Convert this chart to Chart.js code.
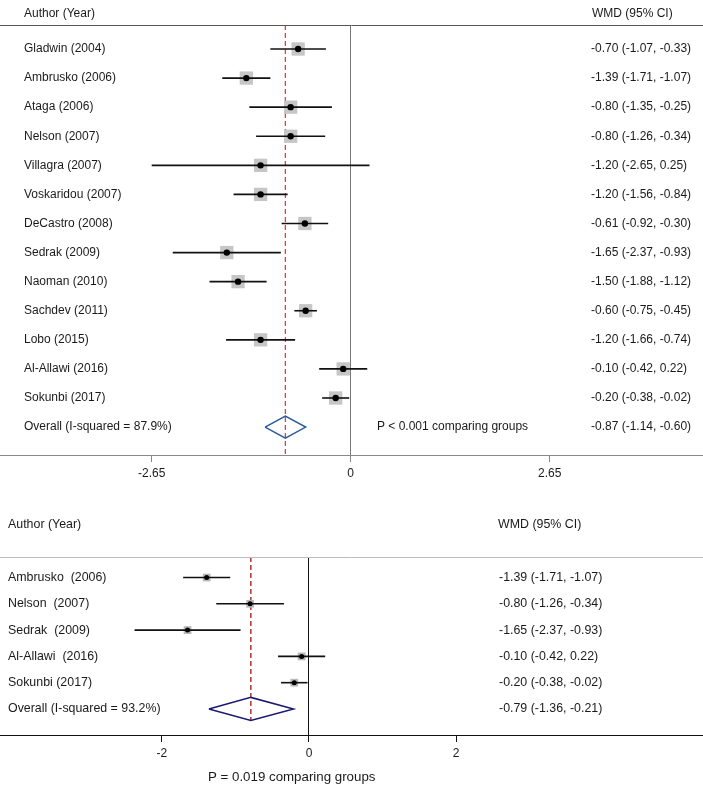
<!DOCTYPE html>
<html>
<head>
<meta charset="utf-8">
<script src="https://cdn.jsdelivr.net/npm/chart.js@4.4.1/dist/chart.umd.min.js"></script>
<style>
  html, body { margin: 0; padding: 0; background: #fff; }
  canvas { display: block; }
</style>
</head>
<body>
<canvas id="top-chart" width="703" height="490"></canvas>
<canvas id="bottom-chart" width="703" height="295"></canvas>
<script>
// bovenste paneel: alle studies
const topStudies = [
  "Gladwin (2004)", "Ambrusko (2006)", "Ataga (2006)", "Nelson (2007)",
  "Villagra (2007)", "Voskaridou (2007)", "DeCastro (2008)", "Sedrak (2009)",
  "Naoman (2010)", "Sachdev (2011)", "Lobo (2015)", "Al-Allawi (2016)", "Sokunbi (2017)"
];
const topEst  = [-0.70, -1.39, -0.80, -0.80, -1.20, -1.20, -0.61, -1.65, -1.50, -0.60, -1.20, -0.10, -0.20];
const topLow  = [-1.07, -1.71, -1.35, -1.26, -2.65, -1.56, -0.92, -2.37, -1.88, -0.75, -1.66, -0.42, -0.38];
const topHigh = [-0.33, -1.07, -0.25, -0.34,  0.25, -0.84, -0.30, -0.93, -1.12, -0.45, -0.74,  0.22, -0.02];
const topOverall = [-0.87, -1.14, -0.60]; // est, low, high
const topOverallLabel = "Overall (I-squared = 87.9%)";
const topPText = "P < 0.001 comparing groups";
const topTicks = [-2.65, 0, 2.65];
const topTickLabels = ["-2.65", "0", "2.65"];

// onderste paneel: subgroep
const botStudies = ["Ambrusko  (2006)", "Nelson  (2007)", "Sedrak  (2009)", "Al-Allawi  (2016)", "Sokunbi (2017)"];
const botEst  = [-1.39, -0.80, -1.65, -0.10, -0.20];
const botLow  = [-1.71, -1.26, -2.37, -0.42, -0.38];
const botHigh = [-1.07, -0.34, -0.93,  0.22, -0.02];
const botOverall = [-0.79, -1.36, -0.21];
const botOverallLabel = "Overall (I-squared = 93.2%)";
const botPText = "P = 0.019 comparing groups";
const botTicks = [-2, 0, 2];
const botTickLabels = ["-2", "0", "2"];

const FONT = "'Liberation Sans', Arial, Helvetica, sans-serif";

function fmt(v) {
  return v.toFixed(2);
}

function ciText(e, l, h) {
  return `${fmt(e)} (${fmt(l)}, ${fmt(h)})`;
}

function forestChart(canvasId, d, s) {
  const n = d.studies.length;
  const [oe, ol, oh] = d.overall;
  const datasets = [];

  // grijze gewichtsvierkanten
  datasets.push({
    type: "scatter",
    data: d.est.map((x, i) => ({ x, y: i })),
    pointStyle: "rect",
    pointRadius: s.boxR,
    backgroundColor: s.boxColor,
    borderWidth: 0,
    order: 3
  });

  // betrouwbaarheidsintervallen
  d.est.forEach((_, i) => {
    datasets.push({
      type: "line",
      data: [{ x: d.low[i], y: i }, { x: d.high[i], y: i }],
      borderColor: s.ciColor,
      borderWidth: s.ciWidth,
      pointRadius: 0,
      fill: false,
      order: 2
    });
  });

  // puntschatting
  datasets.push({
    type: "scatter",
    data: d.est.map((x, i) => ({ x, y: i })),
    pointStyle: "circle",
    pointRadius: s.dotR,
    backgroundColor: "#000",
    borderWidth: 0,
    order: 1
  });

  // diamant (overall)
  datasets.push({
    type: "line",
    data: [
      { x: ol, y: n }, { x: oe, y: n - s.dh }, { x: oh, y: n },
      { x: oe, y: n + s.dh }, { x: ol, y: n }
    ],
    borderColor: s.diamondColor,
    borderWidth: s.diamondWidth,
    borderJoinStyle: "miter",
    pointRadius: 0,
    tension: 0,
    fill: false,
    order: 0
  });

  // gestippelde lijn op overall schatting
  datasets.push({
    type: "line",
    data: [{ x: oe, y: s.yMin }, { x: oe, y: s.dashEnd ?? s.yMax }],
    borderColor: s.dashColor,
    borderWidth: 1.3,
    borderDash: [5, 3],
    pointRadius: 0,
    fill: false,
    order: 4
  });

  const textPlugin = {
    id: "forestText",
    afterDraw(chart) {
      const { ctx, chartArea, scales } = chart;
      const y = scales.y;
      ctx.save();

      // kopregel lijn
      ctx.strokeStyle = s.headLineColor;
      ctx.lineWidth = 1;
      ctx.beginPath();
      ctx.moveTo(0, chartArea.top + 0.5);
      ctx.lineTo(chart.width, chartArea.top + 0.5);
      ctx.stroke();

      ctx.fillStyle = "#1a1a1a";
      ctx.textBaseline = "middle";
      ctx.textAlign = "left";
      ctx.font = `${s.fontSize}px ${FONT}`;

      const headY = chartArea.top - s.headOffset;
      ctx.fillText("Author (Year)", s.headX, headY);
      ctx.fillText("WMD (95% CI)", s.wmdHeadX, headY);

      d.studies.forEach((lab, i) => {
        const py = y.getPixelForValue(i);
        ctx.fillText(lab, s.labelX, py);
        ctx.fillText(ciText(d.est[i], d.low[i], d.high[i]), s.ciX, py);
      });

      const oy = y.getPixelForValue(n);
      ctx.fillText(d.overallLabel, s.labelX, oy);
      ctx.fillText(ciText(oe, ol, oh), s.ciX, oy);

      ctx.font = `${s.pFontSize}px ${FONT}`;
      if (s.pBelow) {
        ctx.fillText(d.pText, s.pX, chartArea.bottom + s.pOffset);
      } else {
        ctx.fillText(d.pText, s.pX, oy);
      }
      ctx.restore();
    }
  };

  return new Chart(document.getElementById(canvasId), {
    type: "scatter",
    data: { datasets },
    options: {
      responsive: false,
      animation: false,
      events: [],
      // geen automatische marge voor de puntgrootte: as over de volle breedte
      layout: { autoPadding: false, padding: { top: s.padTop, left: 0, right: 0, bottom: 0 } },
      plugins: { legend: { display: false }, tooltip: { enabled: false } },
      scales: {
        x: {
          type: "linear",
          min: s.xMin,
          max: s.xMax,
          afterBuildTicks: (sc) => {
            sc.ticks = d.ticks.map((v) => ({ value: v }));
          },
          afterFit: (sc) => {
            sc.height = s.axisH;
            sc.paddingLeft = 0;
            sc.paddingRight = 0;
          },
          ticks: {
            autoSkip: false,
            maxRotation: 0,
            padding: 4,
            color: "#1a1a1a",
            font: { family: FONT, size: s.tickFontSize },
            callback: (v, i) => d.tickLabels[i]
          },
          grid: {
            color: (c) => (c.tick && c.tick.value === 0 ? s.zeroColor : "rgba(0,0,0,0)"),
            tickColor: s.axisColor,
            tickLength: 7,
            lineWidth: 1
          },
          border: { color: s.axisColor, width: 1 }
        },
        y: {
          type: "linear",
          display: false,
          reverse: true,
          min: s.yMin,
          max: s.yMax
        }
      }
    },
    plugins: [textPlugin]
  });
}

forestChart("top-chart", {
  studies: topStudies, est: topEst, low: topLow, high: topHigh,
  overall: topOverall, overallLabel: topOverallLabel, pText: topPText,
  ticks: topTicks, tickLabels: topTickLabels
}, {
  xMin: -4.670, xMax: 4.691, yMin: -0.825, yMax: 13.96,
  padTop: 25, axisH: 35,
  boxR: 9.4, boxColor: "#c6c6c6", dotR: 3.2,
  ciColor: "#111", ciWidth: 1.6,
  dh: 0.38, diamondColor: "#2b5a9b", diamondWidth: 1.5,
  dashColor: "#e0404f",
  zeroColor: "#777", axisColor: "#888", headLineColor: "#555",
  fontSize: 12, tickFontSize: 12, pFontSize: 12,
  headOffset: 11, headX: 24, wmdHeadX: 592, labelX: 24, ciX: 591,
  pX: 377, pBelow: false
});

forestChart("bottom-chart", {
  studies: botStudies, est: botEst, low: botLow, high: botHigh,
  overall: botOverall, overallLabel: botOverallLabel, pText: botPText,
  ticks: botTicks, tickLabels: botTickLabels
}, {
  xMin: -4.198, xMax: 5.353, yMin: -0.78, yMax: 5.99, dashEnd: 5 + 0.44,
  padTop: 67, axisH: 50,
  boxR: 5.5, boxColor: "#b8b8b8", dotR: 2.5,
  ciColor: "#111", ciWidth: 1.6,
  dh: 0.44, diamondColor: "#1a1a6e", diamondWidth: 1.5,
  dashColor: "#a01818",
  zeroColor: "#111", axisColor: "#111", headLineColor: "#bdbdbd",
  fontSize: 12.4, tickFontSize: 12, pFontSize: 13.3,
  headOffset: 32, headX: 8, wmdHeadX: 498, labelX: 8, ciX: 499,
  pX: 208, pBelow: true, pOffset: 42
});
</script>
</body>
</html>
